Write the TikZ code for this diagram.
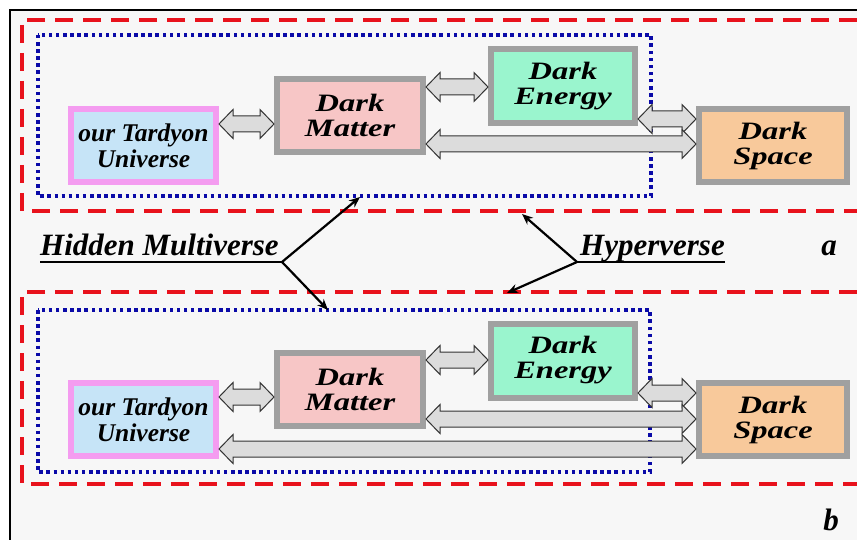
\documentclass[tikz,border=0pt]{standalone}
\usepackage{fontspec}
\setmainfont{Liberation Serif}
\newfontfamily\widefont[FakeStretch=1.3]{Liberation Serif}
\usetikzlibrary{arrows.meta,calc}
\definecolor{bg}{HTML}{F7F7F7}
\definecolor{redd}{HTML}{E8121C}
\definecolor{blued}{HTML}{0A0AA8}
\definecolor{boxgray}{HTML}{A0A0A0}
\definecolor{pinkb}{HTML}{F49CF0}
\definecolor{univfill}{HTML}{C6E4F7}
\definecolor{dmfill}{HTML}{F7C6C6}
\definecolor{defill}{HTML}{9AF5CE}
\definecolor{dsfill}{HTML}{F8C99B}
\definecolor{arrfill}{HTML}{DCDCDC}
\definecolor{arrline}{HTML}{333333}
\newcommand\dblarr[2]{\draw[dblarrow] let \p1=#1, \p2=#2 in
  (\x1,\y1) -- ++(14pt,14.5pt) -- ++(0,-6.5pt) -- (\x2-14pt,\y1+8pt) -- ++(0,6.5pt)
  -- (\x2,\y1) -- ++(-14pt,-14.5pt) -- ++(0,6.5pt) -- (\x1+14pt,\y1-8pt) -- ++(0,-6.5pt) -- cycle;}
\tikzset{
  box/.style={draw=boxgray, line width=6pt, align=center, inner sep=0pt,
     font=\widefont\bfseries\itshape\fontsize{25}{25}\selectfont},
  univbox/.style={box, draw=pinkb, fill=univfill, minimum width=145pt, minimum height=73pt,
     font=\bfseries\itshape\fontsize{25.5}{26}\selectfont},
  dmbox/.style={box, fill=dmfill, minimum width=146pt, minimum height=73pt},
  debox/.style={box, fill=defill, minimum width=144pt, minimum height=74pt},
  dsbox/.style={box, fill=dsfill, minimum width=148pt, minimum height=73pt},
  dblarrow/.style={draw=arrline, fill=arrfill, line width=1pt, line join=miter},
  redframe/.style={draw=redd, line width=4pt, dash pattern=on 18pt off 10pt},
  blueframe/.style={draw=blued, line width=3.5pt, dash pattern=on 3.5pt off 3.6pt},
  lbl/.style={font=\bfseries\itshape\fontsize{31}{31}\selectfont, inner sep=0pt},
  pointer/.style={draw=black, line width=2.2pt, -{Stealth[length=11pt,width=9pt]}},
}
\begin{document}
\begin{tikzpicture}[x=1pt,y=-1pt]
\useasboundingbox (0,0) rectangle (857,540);
\fill[white] (0,0) rectangle (857,540);
\fill[bg] (10,10) rectangle (857,540);
\draw[black, line width=1.5pt] (857,10) -- (10,10) -- (10,540);

% frames
\draw[redframe] (857,20) -- (22,20) -- (22,211) -- (857,211);
\draw[blueframe] (38,35) rectangle (651,196);
\draw[redframe] (857,292) -- (22,292) -- (22,484) -- (857,484);
\draw[blueframe] (38,310) rectangle (650,472);

% top panel
\node[univbox] (tu) at (143.5,145.5) {our Tardyon\\Universe};
\node[dmbox] (tdm) at (350,115.5) {Dark\\Matter};
\node[debox] (tde) at (563,86) {Dark\\Energy};
\node[dsbox] (tds) at (773,145.5) {Dark\\Space};
\dblarr{(tu.east |- 0,124)}{(tdm.west |- 0,124)}
\dblarr{(tdm.east |- 0,87)}{(tde.west |- 0,87)}
\dblarr{(tde.east |- 0,119)}{(tds.west |- 0,119)}
\dblarr{(tdm.east |- 0,144)}{(tds.west |- 0,144)}

% bottom panel
\node[univbox] (bu) at (143.5,419.5) {our Tardyon\\Universe};
\node[dmbox] (bdm) at (350,389.5) {Dark\\Matter};
\node[debox] (bde) at (563,360.5) {Dark\\Energy};
\node[dsbox] (bds) at (773,419.5) {Dark\\Space};
\dblarr{(bu.east |- 0,397)}{(bdm.west |- 0,397)}
\dblarr{(bdm.east |- 0,360)}{(bde.west |- 0,360)}
\dblarr{(bde.east |- 0,393)}{(bds.west |- 0,393)}
\dblarr{(bdm.east |- 0,419)}{(bds.west |- 0,419)}
\dblarr{(bu.east |- 0,449)}{(bds.west |- 0,449)}

% labels
\node[lbl, anchor=base west] (hm) at (40,256) {Hidden Multiverse};
\node[lbl, anchor=base west] (hv) at (580,256) {Hyperverse};
\node[lbl, anchor=base] (la) at (829,256) {a};
\node[lbl, anchor=base] (lb) at (831,530) {b};

\coordinate (j1) at (282,262);
\coordinate (j2) at (577,262);
\coordinate (p1) at (360,197);
\coordinate (p2) at (328,310);
\coordinate (p3) at (522,214);
\coordinate (p4) at (507,293);
\draw[line width=2.2pt] (hm.base west |- j1) -- (j1);
\draw[line width=2.2pt] (j2) -- (hv.base east |- j2);
\draw[pointer] (j1) -- (p1);
\draw[pointer] (j1) -- (p2);
\draw[pointer] (j2) -- (p3);
\draw[pointer] (j2) -- (p4);
\end{tikzpicture}
\end{document}
